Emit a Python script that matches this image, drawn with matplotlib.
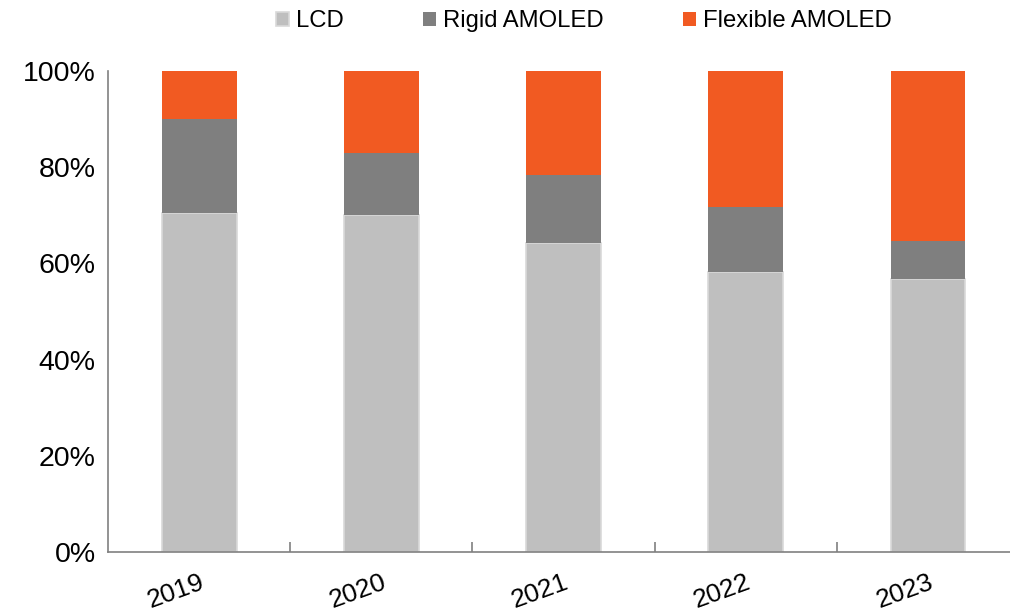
import matplotlib.pyplot as plt
import numpy as np

plt.rcParams['font.family'] = ['Liberation Sans', 'DejaVu Sans']

# 各年份显示屏类型占比（%）
years = ['2019', '2020', '2021', '2022', '2023']
lcd = [70.5, 70.0, 64.2, 58.2, 56.8]
rigid_amoled = [19.5, 13.0, 14.2, 13.5, 7.9]
flexible_amoled = [10.0, 17.0, 21.6, 28.3, 35.3]

fig = plt.figure(figsize=(10.1, 6.13), dpi=100)
ax = fig.add_axes([0.107, 0.0995, 0.893, 0.7845])

x = np.arange(len(years))
w = 0.41
lcd_arr = np.array(lcd)
rigid_arr = np.array(rigid_amoled)
flex_arr = np.array(flexible_amoled)

ax.bar(x, lcd_arr, w, color='#BFBFBF', edgecolor='#D9D9D9', linewidth=1.2, label='LCD')
ax.bar(x, rigid_arr, w, bottom=lcd_arr, color='#7F7F7F', label='Rigid AMOLED')
ax.bar(x, flex_arr, w, bottom=lcd_arr + rigid_arr, color='#F15A22', label='Flexible AMOLED')

ax.set_xlim(-0.5, 4.45)
ax.set_ylim(0, 100)
ax.set_yticks(range(0, 101, 20))
ax.set_yticklabels([f'{v}%' for v in range(0, 101, 20)], fontsize=20.5)
ax.tick_params(axis='y', length=0, pad=9)

# 类别标签放在中间，刻度线在类别之间
ax.set_xticks(x)
ax.set_xticklabels(years, fontsize=19, rotation=20, ha='right', va='top',
                   rotation_mode='anchor')
ax.tick_params(axis='x', which='major', length=0, pad=13)
ax.set_xticks(np.arange(0.5, len(years) - 0.5, 1), minor=True)
ax.tick_params(axis='x', which='minor', direction='in', length=7, color='#808080', width=1.2)

for s in ['top', 'right']:
    ax.spines[s].set_visible(False)
for s in ['left', 'bottom']:
    ax.spines[s].set_color('#808080')
    ax.spines[s].set_linewidth(1.2)

fig.legend(loc='upper center', bbox_to_anchor=(0.578, 1.018), ncol=3, frameon=False,
           fontsize=17.2, handlelength=0.55, handleheight=0.55, handletextpad=0.3,
           columnspacing=3.3)

fig.savefig('out.png', dpi=100)
